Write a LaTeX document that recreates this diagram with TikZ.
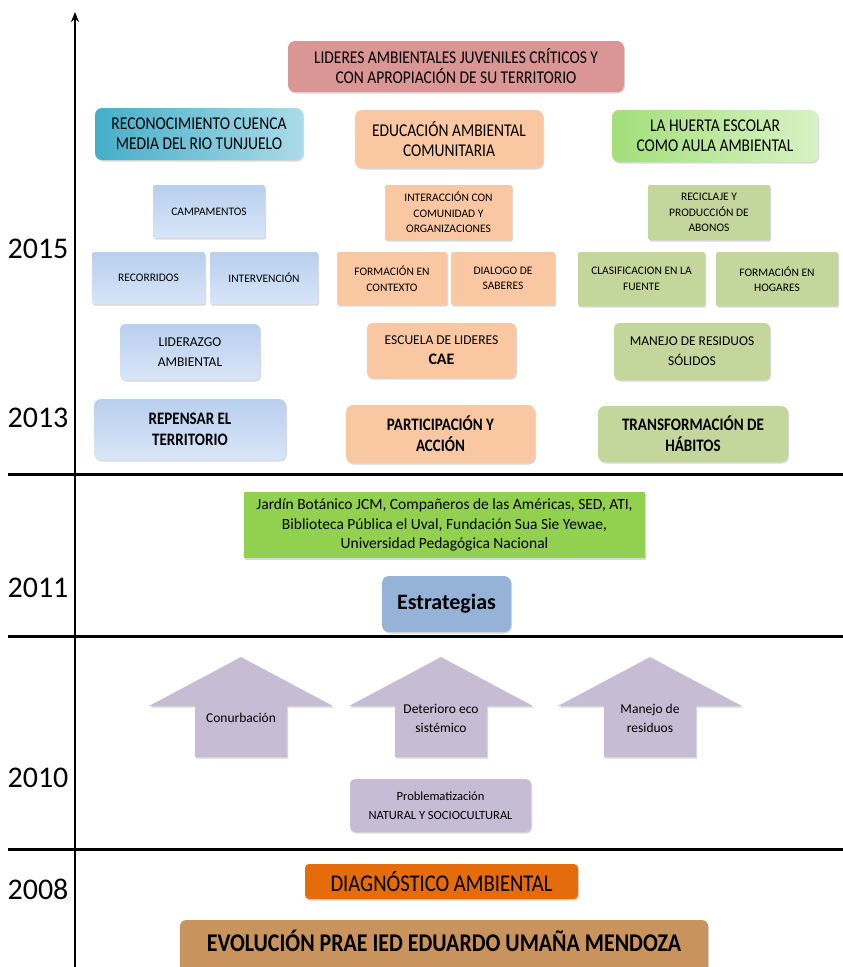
\documentclass[tikz,border=0pt]{standalone}
\usepackage{fontspec}
\setmainfont{Carlito}
\newfontfamily\cnd{Carlito}[FakeStretch=0.86]
\usepackage{tikz}
\usetikzlibrary{arrows.meta, positioning, shadows}

\definecolor{lidred}{HTML}{D99694}
\definecolor{cyanL}{HTML}{45AEC8}
\definecolor{cyanR}{HTML}{AADBE8}
\definecolor{peach}{HTML}{F9C8A2}
\definecolor{greenL}{HTML}{A3DF7A}
\definecolor{greenR}{HTML}{D8F2C4}
\definecolor{blueT}{HTML}{B8CFEE}
\definecolor{blueB}{HTML}{D8E5F7}
\definecolor{olive}{HTML}{C3D69B}
\definecolor{lime}{HTML}{92D050}
\definecolor{steel}{HTML}{95B3D7}
\definecolor{lilac}{HTML}{C6BDD4}
\definecolor{orange}{HTML}{E46C0A}
\definecolor{wood}{HTML}{C9935E}

\begin{document}
\begin{tikzpicture}[x=1pt, y=-1pt,
  box/.style={rectangle, rounded corners=7pt, align=center, inner sep=2pt,
    drop shadow={opacity=0.3, shadow xshift=1pt, shadow yshift=-1.5pt}},
  small/.style={box, rounded corners=1.5pt, font=\fontsize{11.5}{15.5}\selectfont},
  mid/.style={box, rounded corners=5pt, font=\fontsize{13.5}{20}\selectfont},
  head/.style={box, font=\cnd\fontsize{18}{20}\selectfont},
  base/.style={box, font=\cnd\bfseries\fontsize{17.5}{21}\selectfont},
  year/.style={font=\fontsize{30}{36}\selectfont},
  bluebox/.style={top color=blueT, bottom color=blueB},
  sep/.style={line width=3pt},
  probfill/.style={fill=lilac, drop shadow={opacity=0.3, shadow xshift=1pt, shadow yshift=-1.5pt}},
  probtext/.style={align=center, font=\fontsize{13.5}{19}\selectfont}
]
  \useasboundingbox (0,0) rectangle (843,967);

  % axis and separators
  \coordinate (axisbot) at (75,967);
  \coordinate (axistop) at (75,12);
  \draw[line width=2pt, -{Stealth[length=10pt, width=8pt]}] (axisbot) -- (axistop);
  \foreach \y/\nm in {474/s13, 636/s11, 849/s10} {
    \coordinate (\nm l) at (8,\y);
    \coordinate (\nm r) at (843,\y);
    \draw[sep] (\nm l) -- (\nm r);
  }

  % years
  \node[year] (y15) at (38,249) {2015};
  \node[year] (y13) at (38,418) {2013};
  \node[year] (y11) at (38,588) {2011};
  \node[year] (y10) at (38,778) {2010};
  \node[year] (y08) at (38,889) {2008};

  % 2013 - 2015
  \node[head, fill=lidred, minimum width=336, minimum height=51] (lideres) at (456,66.5)
    {LIDERES AMBIENTALES JUVENILES CRÍTICOS Y\\CON APROPIACIÓN DE SU TERRITORIO};
  \node[head, left color=cyanL, right color=cyanR, minimum width=208, minimum height=52] (cuenca) at (199,134)
    {RECONOCIMIENTO CUENCA\\MEDIA DEL RIO TUNJUELO};
  \node[head, fill=peach, minimum width=188, minimum height=58] (educa) at (449,139)
    {EDUCACIÓN AMBIENTAL\\COMUNITARIA};
  \node[head, left color=greenL, right color=greenR, minimum width=206, minimum height=52] (huerta) at (715,136)
    {LA HUERTA ESCOLAR\\COMO AULA AMBIENTAL};

  \node[small, bluebox, minimum width=112, minimum height=53] (campam) at (209,211.5) {CAMPAMENTOS};
  \node[small, bluebox, minimum width=113, minimum height=52] (recorr) at (148.5,278) {RECORRIDOS};
  \node[small, bluebox, minimum width=108, minimum height=52] (interv) at (264,278) {INTERVENCIÓN};

  \node[small, fill=peach, minimum width=127, minimum height=55] (interac) at (448.5,212.5)
    {INTERACCIÓN CON\\COMUNIDAD Y\\ORGANIZACIONES};
  \node[small, fill=peach, minimum width=110, minimum height=53] (formctx) at (392,278.5)
    {FORMACIÓN EN\\CONTEXTO};
  \node[small, fill=peach, minimum width=104, minimum height=53] (dialogo) at (503,278.5)
    {DIALOGO DE\\SABERES};

  \node[small, fill=olive, minimum width=122, minimum height=55] (recicl) at (709,212.5)
    {RECICLAJE Y\\PRODUCCIÓN DE\\ABONOS};
  \node[small, fill=olive, minimum width=127, minimum height=54] (clasif) at (641.5,279)
    {CLASIFICACION EN LA\\FUENTE};
  \node[small, fill=olive, minimum width=122, minimum height=54] (hogares) at (777,279)
    {FORMACIÓN EN\\HOGARES};

  \node[mid, bluebox, minimum width=140, minimum height=56] (liderazgo) at (190,352)
    {LIDERAZGO\\AMBIENTAL};
  \node[mid, fill=peach, minimum width=149, minimum height=55] (escuela) at (441.5,350.5)
    {ESCUELA DE LIDERES\\{\bfseries\fontsize{16}{20}\selectfont CAE}};
  \node[mid, fill=olive, minimum width=156, minimum height=57] (residuos) at (692,351.5)
    {MANEJO DE RESIDUOS\\SÓLIDOS};

  \node[base, bluebox, minimum width=192, minimum height=61] (repensar) at (190,429.5)
    {REPENSAR EL\\TERRITORIO};
  \node[base, fill=peach, minimum width=189, minimum height=58] (particip) at (440.5,434)
    {PARTICIPACIÓN Y\\ACCIÓN};
  \node[base, fill=olive, minimum width=190, minimum height=56] (habitos) at (693,434)
    {TRANSFORMACIÓN DE\\HÁBITOS};

  % 2011
  \node[box, rounded corners=0pt, fill=lime, minimum width=401, minimum height=66,
    font=\fontsize{15.5}{19.5}\selectfont] (aliados) at (444.5,525)
    {Jardín Botánico JCM, Compañeros de las Américas, SED, ATI,\\Biblioteca Pública el Uval, Fundación Sua Sie Yewae,\\Universidad Pedagógica Nacional};
  \node[box, fill=steel, minimum width=129, minimum height=56,
    font=\bfseries\fontsize{22}{26}\selectfont] (estrateg) at (446.5,604) {Estrategias};

  % 2010
  \foreach \cx/\nm/\txt in {241/conurb/{Conurbación}, 441/deterioro/{Deterioro eco\\sistémico}, 650/manejo/{Manejo de\\residuos}} {
    \fill[probfill] (\cx-92,706) -- (\cx,657) -- (\cx+92,706) -- (\cx+46,706)
      -- (\cx+46,757) -- (\cx-46,757) -- (\cx-46,706) -- cycle;
    \node[probtext] (\nm) at (\cx,718) {\txt};
  }
  \node[box, fill=lilac, rounded corners=5pt, minimum width=181, minimum height=53,
    font=\fontsize{12.5}{19}\selectfont] (problem) at (440.5,805.5)
    {Problematización\\NATURAL Y SOCIOCULTURAL};

  % 2008
  \node[box, fill=orange, rounded corners=4pt, minimum width=273, minimum height=35,
    font=\cnd\fontsize{24}{28}\selectfont] (diagn) at (441.5,881.5) {DIAGNÓSTICO AMBIENTAL};
  \node[box, fill=wood, rounded corners=6pt, minimum width=528, minimum height=56,
    text depth=14pt, font=\cnd\bfseries\fontsize{25.5}{28}\selectfont] (evol) at (444,948)
    {EVOLUCIÓN PRAE IED EDUARDO UMAÑA MENDOZA};
\end{tikzpicture}
\end{document}
